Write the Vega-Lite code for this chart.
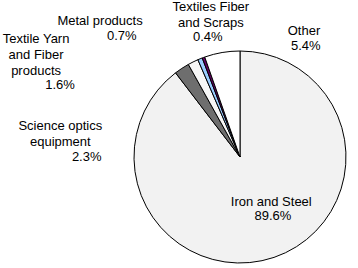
{
  "$schema": "https://vega.github.io/schema/vega-lite/v6.json",
  "width": 212,
  "height": 212,
  "autosize": {"type": "none"},
  "padding": {"left": 134, "top": 51, "right": 12, "bottom": 5},
  "background": "white",
  "config": {"view": {"stroke": null}},
  "data": {
    "values": [
      {"category": "Iron and Steel", "name": "Iron and Steel", "pct": "89.6%", "value": 89.6, "ord": 1},
      {"category": "Science optics equipment", "name": "Science optics\nequipment", "pct": "2.3%", "value": 2.3, "ord": 2},
      {"category": "Textile Yarn and Fiber products", "name": "Textile Yarn\nand Fiber\nproducts", "pct": "1.6%", "value": 1.6, "ord": 3},
      {"category": "Metal products", "name": "Metal products", "pct": "0.7%", "value": 0.7, "ord": 4},
      {"category": "Textiles Fiber and Scraps", "name": "Textiles Fiber\nand Scraps", "pct": "0.4%", "value": 0.4, "ord": 5},
      {"category": "Other", "name": "Other", "pct": "5.4%", "value": 5.4, "ord": 6}
    ]
  },
  "encoding": {
    "theta": {"field": "value", "type": "quantitative", "stack": true},
    "order": {"field": "ord", "type": "quantitative"}
  },
  "layer": [
    {
      "mark": {"type": "arc", "radius": 106, "stroke": "black", "strokeWidth": 1},
      "encoding": {
        "color": {
          "field": "category",
          "type": "nominal",
          "scale": {
            "domain": ["Iron and Steel", "Science optics equipment", "Textile Yarn and Fiber products", "Metal products", "Textiles Fiber and Scraps", "Other"],
            "range": ["#f2f2f2", "#6e6e6e", "#f7f7f7", "#99ccff", "#660066", "#ffffff"]
          },
          "legend": null
        }
      }
    },
    {
      "mark": {"type": "text", "radius": 60, "dx": 12, "dy": -7.8, "align": "center", "baseline": "alphabetic", "font": "Liberation Sans", "fontSize": 13, "lineBreak": "\n", "lineHeight": 15.7, "color": "black"},
      "encoding": {"text": {"condition": {"test": "datum.ord === 1", "field": "name", "type": "nominal"}, "value": ""}}
    },
    {
      "mark": {"type": "text", "radius": 60, "dx": 13.7, "dy": 6.2, "align": "center", "baseline": "alphabetic", "font": "Liberation Sans", "fontSize": 13, "color": "black"},
      "encoding": {"text": {"condition": {"test": "datum.ord === 1", "field": "pct", "type": "nominal"}, "value": ""}}
    },
    {
      "mark": {"type": "text", "radius": 106, "dx": -121.5, "dy": 61.6, "align": "center", "baseline": "alphabetic", "font": "Liberation Sans", "fontSize": 13, "lineBreak": "\n", "lineHeight": 15.7, "color": "black"},
      "encoding": {"text": {"condition": {"test": "datum.ord === 2", "field": "name", "type": "nominal"}, "value": ""}}
    },
    {
      "mark": {"type": "text", "radius": 106, "dx": -95.1, "dy": 92.1, "align": "center", "baseline": "alphabetic", "font": "Liberation Sans", "fontSize": 13, "color": "black"},
      "encoding": {"text": {"condition": {"test": "datum.ord === 2", "field": "pct", "type": "nominal"}, "value": ""}}
    },
    {
      "mark": {"type": "text", "radius": 106, "dx": -157, "dy": -18.5, "align": "center", "baseline": "alphabetic", "font": "Liberation Sans", "fontSize": 13, "lineBreak": "\n", "lineHeight": 15.7, "color": "black"},
      "encoding": {"text": {"condition": {"test": "datum.ord === 3", "field": "name", "type": "nominal"}, "value": ""}}
    },
    {
      "mark": {"type": "text", "radius": 106, "dx": -133, "dy": 27.3, "align": "center", "baseline": "alphabetic", "font": "Liberation Sans", "fontSize": 13, "color": "black"},
      "encoding": {"text": {"condition": {"test": "datum.ord === 3", "field": "pct", "type": "nominal"}, "value": ""}}
    },
    {
      "mark": {"type": "text", "radius": 106, "dx": -100, "dy": -33.8, "align": "center", "baseline": "alphabetic", "font": "Liberation Sans", "fontSize": 13, "color": "black"},
      "encoding": {"text": {"condition": {"test": "datum.ord === 4", "field": "name", "type": "nominal"}, "value": ""}}
    },
    {
      "mark": {"type": "text", "radius": 106, "dx": -78.3, "dy": -18.8, "align": "center", "baseline": "alphabetic", "font": "Liberation Sans", "fontSize": 13, "color": "black"},
      "encoding": {"text": {"condition": {"test": "datum.ord === 4", "field": "pct", "type": "nominal"}, "value": ""}}
    },
    {
      "mark": {"type": "text", "radius": 106, "dx": 7.4, "dy": -46.5, "align": "center", "baseline": "alphabetic", "font": "Liberation Sans", "fontSize": 13, "lineBreak": "\n", "lineHeight": 15.7, "color": "black"},
      "encoding": {"text": {"condition": {"test": "datum.ord === 5", "field": "name", "type": "nominal"}, "value": ""}}
    },
    {
      "mark": {"type": "text", "radius": 106, "dx": 4.3, "dy": -16.8, "align": "center", "baseline": "alphabetic", "font": "Liberation Sans", "fontSize": 13, "color": "black"},
      "encoding": {"text": {"condition": {"test": "datum.ord === 5", "field": "pct", "type": "nominal"}, "value": ""}}
    },
    {
      "mark": {"type": "text", "radius": 106, "dx": 81.9, "dy": -18, "align": "center", "baseline": "alphabetic", "font": "Liberation Sans", "fontSize": 13, "color": "black"},
      "encoding": {"text": {"condition": {"test": "datum.ord === 6", "field": "name", "type": "nominal"}, "value": ""}}
    },
    {
      "mark": {"type": "text", "radius": 106, "dx": 83.7, "dy": -2.6, "align": "center", "baseline": "alphabetic", "font": "Liberation Sans", "fontSize": 13, "color": "black"},
      "encoding": {"text": {"condition": {"test": "datum.ord === 6", "field": "pct", "type": "nominal"}, "value": ""}}
    }
  ]
}
